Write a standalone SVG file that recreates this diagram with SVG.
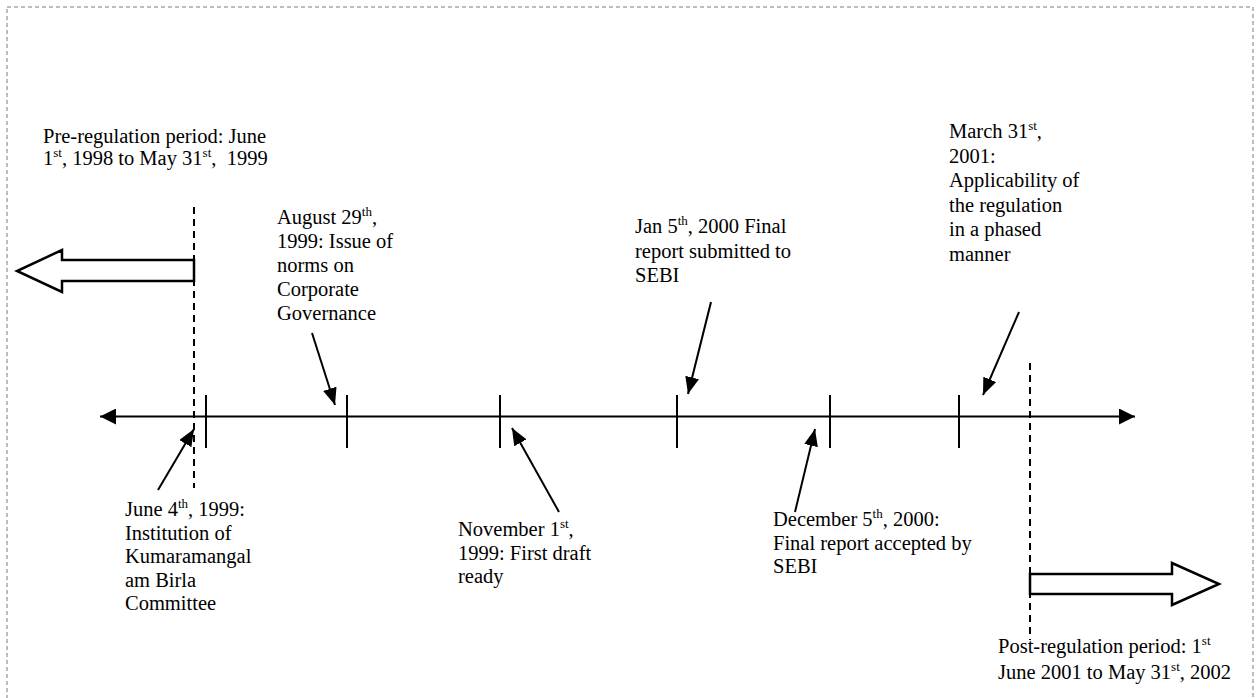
<svg xmlns="http://www.w3.org/2000/svg" width="1256" height="698" viewBox="0 0 1256 698">
<style>
text { font-family: "Liberation Serif", "Times New Roman", serif; font-size: 20.5px; fill: #000; }
.sup { font-size: 13px; }
.conn { stroke: #000; stroke-width: 2; fill: none; }
.dash { stroke: #000; stroke-width: 2; stroke-dasharray: 7 5; fill: none; }
.tick { stroke: #000; stroke-width: 2; }
.blk { fill: #fff; stroke: #000; stroke-width: 2.5; stroke-linejoin: miter; }
.frame { fill: none; stroke: #a8a8a8; stroke-width: 1.5; stroke-dasharray: 4 3; }
</style>
<defs>
<marker id="ah" viewBox="0 0 17 14" refX="17" refY="7" markerWidth="17" markerHeight="14" orient="auto" markerUnits="userSpaceOnUse">
<path d="M0,0 L17,7 L0,14 z" fill="#000"/>
</marker>
<marker id="ax" viewBox="0 0 16 16" refX="16" refY="8" markerWidth="16" markerHeight="16" orient="auto-start-reverse" markerUnits="userSpaceOnUse">
<path d="M0,0 L16,8 L0,16 z" fill="#000"/>
</marker>
</defs>
<rect class="frame" x="7" y="7" width="1246" height="710"/>

<g id="timeline">
<line class="conn" x1="100" y1="416.5" x2="1135" y2="416.5" stroke-width="2.5" marker-start="url(#ax)" marker-end="url(#ax)"/>
<line class="tick" x1="206" y1="395" x2="206" y2="448"/>
<line class="tick" x1="347" y1="395" x2="347" y2="448"/>
<line class="tick" x1="500" y1="395" x2="500" y2="448"/>
<line class="tick" x1="677" y1="395" x2="677" y2="448"/>
<line class="tick" x1="830" y1="395" x2="830" y2="448"/>
<line class="tick" x1="959" y1="395" x2="959" y2="448"/>
</g>

<g id="pre-period">
<line class="dash" x1="194" y1="207" x2="194" y2="488"/>
<polygon class="blk" points="194,260 62,260 62,250 17,271 62,292 62,281 194,281"/>
<text x="43" y="143">Pre-regulation period: June</text>
<text x="43" y="165" xml:space="preserve">1<tspan class="sup" dy="-8">st</tspan><tspan dy="8">, 1998 to May 31</tspan><tspan class="sup" dy="-8">st</tspan><tspan dy="8">,  1999</tspan></text>
</g>

<g id="post-period">
<line class="dash" x1="1030" y1="363" x2="1030" y2="640"/>
<polygon class="blk" points="1030,574 1172,574 1172,563 1219,584 1172,605 1172,594 1030,594"/>
<text x="998" y="653">Post-regulation period: 1<tspan class="sup" dy="-8">st</tspan></text>
<text x="998" y="679">June 2001 to May 31<tspan class="sup" dy="-8">st</tspan><tspan dy="8">, 2002</tspan></text>
</g>

<g id="june-1999">
<text x="125" y="516">June 4<tspan class="sup" dy="-8">th</tspan><tspan dy="8">, 1999:</tspan></text>
<text x="125" y="539.5">Institution of</text>
<text x="125" y="563">Kumaramangal</text>
<text x="125" y="586.5">am Birla</text>
<text x="125" y="610">Committee</text>
</g>

<g id="aug-1999">
<text x="277" y="224">August 29<tspan class="sup" dy="-8">th</tspan><tspan dy="8">,</tspan></text>
<text x="277" y="248">1999: Issue of</text>
<text x="277" y="272">norms on</text>
<text x="277" y="296">Corporate</text>
<text x="277" y="320">Governance</text>
</g>

<g id="nov-1999">
<text x="458" y="536">November 1<tspan class="sup" dy="-8">st</tspan><tspan dy="8">,</tspan></text>
<text x="458" y="559.5">1999: First draft</text>
<text x="458" y="583">ready</text>
</g>

<g id="jan-2000">
<text x="635" y="233">Jan 5<tspan class="sup" dy="-8">th</tspan><tspan dy="8">, 2000 Final</tspan></text>
<text x="635" y="257.5">report submitted to</text>
<text x="635" y="282">SEBI</text>
</g>

<g id="dec-2000">
<text x="773" y="526">December 5<tspan class="sup" dy="-8">th</tspan><tspan dy="8">, 2000:</tspan></text>
<text x="773" y="549.5">Final report accepted by</text>
<text x="773" y="573">SEBI</text>
</g>

<g id="mar-2001">
<text x="949" y="138">March 31<tspan class="sup" dy="-8">st</tspan><tspan dy="8">,</tspan></text>
<text x="949" y="162.5">2001:</text>
<text x="949" y="187">Applicability of</text>
<text x="949" y="211.5">the regulation</text>
<text x="949" y="236">in a phased</text>
<text x="949" y="260.5">manner</text>
</g>

<g id="connectors">
<line class="conn" x1="158" y1="490" x2="194" y2="429" marker-end="url(#ah)"/>
<line class="conn" x1="312" y1="333" x2="335" y2="405" marker-end="url(#ah)"/>
<line class="conn" x1="559" y1="512" x2="512" y2="428" marker-end="url(#ah)"/>
<line class="conn" x1="711" y1="302" x2="688" y2="394" marker-end="url(#ah)"/>
<line class="conn" x1="795" y1="512" x2="815" y2="429" marker-end="url(#ah)"/>
<line class="conn" x1="1019" y1="312" x2="983" y2="395" marker-end="url(#ah)"/>
</g>
</svg>
